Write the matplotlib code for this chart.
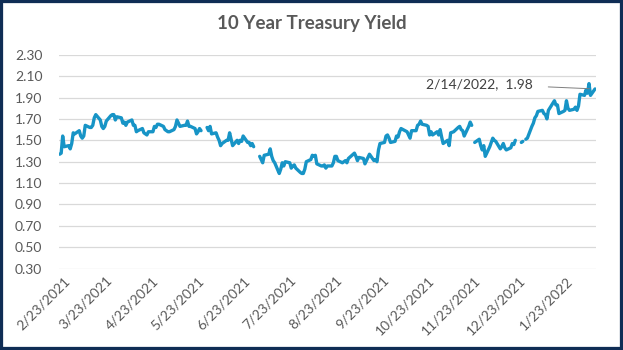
import matplotlib
matplotlib.use("Agg")
import matplotlib.pyplot as plt
import matplotlib.transforms as mtransforms
from matplotlib.patches import Rectangle
import numpy as np
import pandas as pd

# Daily 10-year Treasury yield (%), one list per month; None = no quote
feb21 = [1.37, 1.38, 1.54, 1.44]
mar21 = [1.45, 1.42, 1.47, 1.57, 1.56,
         1.59, 1.54, 1.52, 1.54, 1.64,
         1.62, 1.62, 1.64, 1.71, 1.74,
         1.69, 1.63, 1.61, 1.63, 1.68,
         1.73, 1.74, 1.74]
apr21 = [1.69, 1.72,
         1.71, 1.66, 1.67, 1.64, 1.67,
         1.69, 1.64, 1.64, 1.58, 1.59,
         1.61, 1.57, 1.56, 1.55, 1.58,
         1.58, 1.63, 1.62, 1.65, 1.65]
may21 = [1.63, 1.60, 1.59, 1.58, 1.58,
         1.60, 1.63, 1.69, 1.66, 1.63,
         1.64, 1.64, 1.68, 1.63, 1.63,
         1.61, 1.56, 1.58, 1.61, 1.59,
         None]
jun21 = [1.62, 1.59, 1.63, 1.56,
         1.57, 1.53, 1.50, 1.45, 1.47,
         1.50, 1.50, 1.57, 1.51, 1.45,
         1.50, 1.47, 1.50, 1.49, 1.54,
         1.48, 1.48, 1.45]
jul21 = [1.47, 1.44,
         None, 1.35, 1.32, 1.29, 1.36,
         1.37, 1.42, 1.35, 1.31, 1.29,
         1.19, 1.23, 1.29, 1.26, 1.30,
         1.29, 1.24, 1.26, 1.27, 1.24]
aug21 = [1.20, 1.19, 1.19, 1.23, 1.30,
         1.32, 1.36, 1.35, 1.36, 1.28,
         1.26, 1.26, 1.27, 1.24, 1.26,
         1.26, 1.29, 1.35, 1.35, 1.31,
         1.29, 1.30]
sep21 = [1.31, 1.29, 1.33,
         1.38, 1.35, 1.31, 1.34,
         1.33, 1.28, 1.31, 1.34, 1.37,
         1.31, 1.32, 1.30, 1.41, 1.47,
         1.48, 1.54, 1.55, 1.52]
oct21 = [1.48,
         1.49, 1.54, 1.53, 1.58, 1.61,
         1.58, 1.55, 1.52, 1.59,
         1.59, 1.64, 1.65, 1.68, 1.65,
         1.64, 1.63, 1.55, 1.58, 1.55]
nov21 = [1.58, 1.55, 1.60, 1.53, 1.47,
         1.50, 1.45, 1.57, 1.58,
         1.62, 1.63, 1.60, 1.59, 1.54,
         1.63, 1.67, 1.64, None, 1.48,
         1.51, 1.45]
dec21 = [1.41, 1.45, 1.35,
         1.44, 1.48, 1.52, 1.50, 1.49,
         1.42, 1.44, 1.47, 1.43, 1.41,
         1.43, 1.47, 1.46, 1.50, None,
         1.48, 1.49, None, 1.51, 1.52]
jan22 = [1.63, 1.66, 1.71, 1.73, 1.77,
         1.78, 1.75, 1.74, 1.70, 1.78,
         1.87, 1.83, 1.83, 1.75,
         1.77, 1.78, 1.87, 1.80, 1.78,
         1.79]
feb22 = [1.81, 1.78, 1.82, 1.93,
         1.92, 1.97, 1.94, 2.03, 1.92,
         1.98]

first_day = "2021-02-23"
last_day = "2022-02-14"
closed_days = ["2021-09-06", "2021-10-11", "2021-11-11", "2022-01-17"]

tick_dates = ["2021-02-23", "2021-03-23", "2021-04-23", "2021-05-23",
              "2021-06-23", "2021-07-23", "2021-08-23", "2021-09-23",
              "2021-10-23", "2021-11-23", "2021-12-23", "2022-01-23"]
y_ticks = [0.30, 0.50, 0.70, 0.90, 1.10, 1.30, 1.50, 1.70, 1.90, 2.10, 2.30]

title = "10 Year Treasury Yield"

# ---------------------------------------------------------------------------
days = pd.bdate_range(first_day, last_day)
days = days[~days.isin(pd.to_datetime(closed_days))]
yields = np.array([np.nan if v is None else v for v in
                   feb21 + mar21 + apr21 + may21 + jun21 + jul21 + aug21 +
                   sep21 + oct21 + nov21 + dec21 + jan22 + feb22], dtype=float)
assert len(days) == len(yields)

plt.rcParams["font.family"] = ["Lato", "DejaVu Sans"]
text_grey = "#595959"
line_blue = "#1794C6"

fig = plt.figure(figsize=(6.23, 3.5), dpi=100)
ax = fig.add_axes([0.0947, 0.2323, 0.8620, 0.6114])

ax.plot(days, yields, color=line_blue, lw=2.4, solid_joinstyle="round",
        solid_capstyle="round")

ax.set_ylim(0.30, 2.30)
ax.set_yticks(y_ticks)
ax.set_yticklabels([f"{t:.2f}" for t in y_ticks])
ax.set_xlim(pd.Timestamp(first_day) - pd.Timedelta(hours=11),
            pd.Timestamp(last_day) + pd.Timedelta(hours=16))
ticks = pd.to_datetime(tick_dates)
ax.set_xticks(ticks)
ax.set_xticklabels([f"{d.month}/{d.day}/{d.year}" for d in ticks])

ax.grid(axis="y", color="#D9D9D9", lw=0.9)
ax.set_axisbelow(True)
for s in ax.spines.values():
    s.set_visible(False)
ax.tick_params(axis="both", length=0, colors=text_grey, labelsize=10)
ax.tick_params(axis="y", pad=12)
ax.tick_params(axis="x", pad=4)

shift = mtransforms.ScaledTranslation(4 / 100, 0, fig.dpi_scale_trans)
for lab in ax.get_xticklabels():
    lab.set_rotation(45)
    lab.set_rotation_mode("anchor")
    lab.set_ha("right")
    lab.set_va("top")
    lab.set_transform(lab.get_transform() + shift)

fig.text(0.5, 1 - 23 / 350, title, ha="center", va="center",
         fontsize=13.5, fontweight="bold", color=text_grey)

# Label for the most recent reading
last = pd.Timestamp(last_day)
last_val = yields[-1]
ax.annotate(f"{last.month}/{last.day}/{last.year},  {last_val:.2f}",
            xy=(last, last_val), xytext=(-62, 5), textcoords="offset pixels",
            ha="right", va="center", fontsize=10, color="#404040",
            arrowprops=dict(arrowstyle="-", color="#7F7F7F", lw=0.7,
                            shrinkA=9, shrinkB=4))

fig.patches.append(Rectangle((0, 0), 1, 1, transform=fig.transFigure,
                             fill=False, edgecolor="#0F2D55", lw=4.5,
                             zorder=10))

fig.savefig("out.png", dpi=100, facecolor="white")
